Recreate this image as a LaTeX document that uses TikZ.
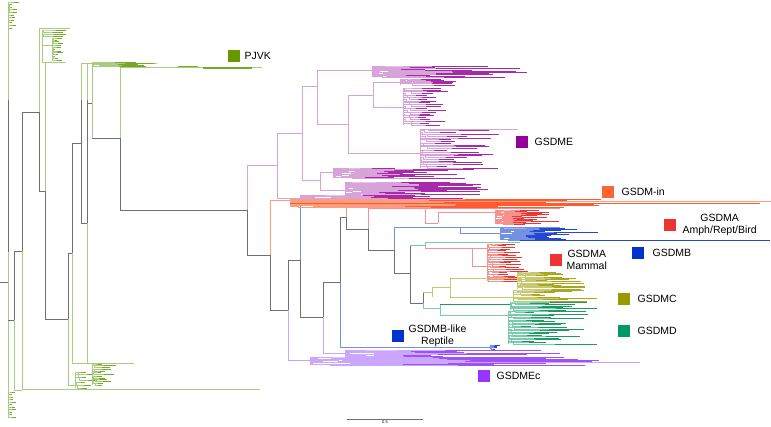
\documentclass[tikz,border=0pt]{standalone}
\usepackage{fontspec}
\setmainfont{Liberation Sans}
\usetikzlibrary{positioning,calc}

\definecolor{trunk}{HTML}{707070}
\definecolor{pjvkL}{HTML}{A8CC80}
\definecolor{pjvkD}{HTML}{78A828}
\definecolor{pjvkC}{HTML}{669900}
\definecolor{gsdmeL}{HTML}{D8A2DA}
\definecolor{gsdmeD}{HTML}{A62AAA}
\definecolor{gsdmeC}{HTML}{990099}
\definecolor{ginL}{HTML}{FF9C7C}
\definecolor{ginD}{HTML}{FF5A30}
\definecolor{ginC}{HTML}{FF6633}
\definecolor{gsdmaL}{HTML}{F89090}
\definecolor{gsdmaD}{HTML}{F03535}
\definecolor{gsdmaC}{HTML}{EE3333}
\definecolor{gsdmbL}{HTML}{7490E2}
\definecolor{gsdmbD}{HTML}{2448D0}
\definecolor{gsdmbC}{HTML}{0033CC}
\definecolor{gsdmcL}{HTML}{C8C870}
\definecolor{gsdmcD}{HTML}{A8A820}
\definecolor{gsdmcC}{HTML}{999900}
\definecolor{gsdmdL}{HTML}{78CCAC}
\definecolor{gsdmdD}{HTML}{1C9A62}
\definecolor{gsdmdC}{HTML}{009966}
\definecolor{gsdmecL}{HTML}{CBA6FF}
\definecolor{gsdmecD}{HTML}{A050F5}
\definecolor{gsdmecC}{HTML}{9933FF}

\tikzset{
  br/.style={line width=0.75pt},
  twig/.style={line width=0.6pt},
  key/.style={minimum size=12.5pt, inner sep=0pt},
  lab/.style={font=\fontsize{10.5}{12}\selectfont, inner sep=0pt, align=center},
}

% x, y0, y1, n, xmin, xmax, light, dark
\newcommand{\bush}[8]{%
  \draw[br,#7] (#1,#2) -- (#1,#3);
  \foreach \k in {0,...,#4}{
    \pgfmathsetmacro{\yy}{#2+\k*(#3-#2)/#4}
    \pgfmathsetmacro{\yp}{max(#2,\yy-(#3-#2)/#4)}
    \pgfmathsetmacro{\xx}{#5+rnd*(#6-#5)}
    \pgfmathsetmacro{\xs}{#1+rnd*0.4*(#5-#1)}
    \pgfmathsetmacro{\xm}{\xs+0.5*(\xx-\xs)}
    \draw[twig,#7] (#1,\yp) -- (\xs,\yp) -- (\xs,\yy) -- (\xm,\yy);
    \draw[twig,#8] (\xm,\yy) -- (\xx,\yy);
  }}

\begin{document}
\begin{tikzpicture}[x=1pt,y=-1pt]
  \pgfmathsetseed{7}
  \useasboundingbox (0,0) rectangle (771,427);

  % left part, PJVK
  \draw[br,trunk] (0,282) -- (8,282);
  \draw[br,pjvkL] (8,2) -- (8,100);
  \draw[br,trunk] (8,100) -- (8,252);
  \draw[br,pjvkL] (8,252) -- (8,417);
  \bush{8}{2}{28}{10}{11}{20}{pjvkL}{pjvkD}
  \bush{8}{392}{417}{10}{10}{16}{pjvkL}{pjvkD}
  \draw[br,trunk] (8,320) -- (14,320);
  \draw[br,trunk] (14,251) -- (14,320);
  \draw[br,pjvkL] (14,320) -- (14,390) -- (22,390);
  \draw[br,trunk] (14,251) -- (22,251);
  \draw[br,trunk] (22,112) -- (22,251);
  \draw[br,pjvkL] (22,251) -- (22,389) -- (260,389);
  \draw[br,trunk] (22,112) -- (39,112);
  \draw[br,pjvkL] (39,28) -- (39,112);
  \draw[br,trunk] (39,112) -- (39,191) -- (45,191);
  \draw[br,pjvkL] (39,28) -- (70,28);
  \bush{42}{30}{36}{3}{58}{70}{pjvkL}{pjvkD}
  \draw[br,pjvkL] (42,36) -- (42,62);
  \draw[br,pjvkL] (42,45) -- (52,45);
  \bush{52}{38}{60}{12}{55}{64}{pjvkL}{pjvkD}
  \draw[br,pjvkL] (42,62) -- (66,62);
  \draw[br,pjvkL] (45,62) -- (45,191);
  \draw[br,trunk] (45,191) -- (45,319) -- (68,319);
  \draw[br,trunk] (68,253) -- (68,319);
  \draw[br,pjvkL] (68,319) -- (68,385) -- (75,385);
  \draw[br,trunk] (68,253) -- (72,253);
  \draw[br,trunk] (72,143) -- (72,253);
  \draw[br,pjvkL] (72,253) -- (72,363) -- (134,363);
  \bush{75}{372}{388}{6}{85}{100}{pjvkL}{pjvkD}
  \bush{92}{364}{385}{12}{100}{122}{pjvkL}{pjvkD}
  \draw[br,trunk] (72,143) -- (81,143);
  \draw[br,pjvkL] (81,63) -- (81,100);
  \draw[br,trunk] (81,100) -- (81,223) -- (87,223);
  \draw[br,pjvkL] (87,63) -- (87,100);
  \draw[br,trunk] (87,100) -- (87,223);
  \draw[br,pjvkL] (87,223) -- (87,363);
  \draw[br,trunk] (87,103) -- (92,103);
  \draw[br,pjvkL] (92,65) -- (92,138);
  \draw[br,trunk] (92,138) -- (120,138);
  \draw[br,pjvkL] (120,67) -- (120,138);
  \draw[br,trunk] (120,138) -- (120,210) -- (247,210);
  \draw[br,pjvkL] (81,63) -- (157,63);
  \bush{92}{62}{66}{5}{130}{157}{pjvkL}{pjvkD}
  \draw[br,pjvkL] (120,67) -- (262,67);
  \draw[line width=1pt,pjvkD] (178,67) -- (198,67);
  \draw[line width=1.1pt,pjvkD] (203,68) -- (252,68);

  % backbone of the gasdermins
  \draw[br,gsdmeL] (247,165) -- (247,210);
  \draw[br,trunk] (247,210) -- (247,255) -- (270,255);
  \draw[br,ginL] (270,200) -- (270,255);
  \draw[br,trunk] (270,255) -- (270,310) -- (288,310);
  \draw[br,trunk] (288,260) -- (288,310);
  \draw[br,gsdmecL] (288,310) -- (288,360);
  \draw[br,trunk] (288,260) -- (300,260);
  \draw[br,gsdmbL] (300,204) -- (300,260);
  \draw[br,trunk] (300,260) -- (300,317) -- (323,317);
  \draw[br,gsdmbL] (300,204) -- (346,204);
  \draw[br,trunk] (323,282) -- (323,317);
  \draw[br,gsdmecL] (323,317) -- (323,353);
  \draw[br,trunk] (323,282) -- (340,282);
  \draw[br,trunk] (340,217) -- (340,282);
  \draw[br,gsdmbL] (340,282) -- (340,347);
  \draw[br,trunk] (340,217) -- (346,217);
  \draw[br,gsdmaL] (346,204) -- (346,217);
  \draw[br,trunk] (346,217) -- (346,229) -- (368,229);
  \draw[br,gsdmaL] (368,208) -- (368,229);
  \draw[br,trunk] (368,229) -- (368,250) -- (394,250);
  \draw[br,gsdmbL] (394,227) -- (394,250);
  \draw[br,trunk] (394,250) -- (394,273) -- (410,273);
  \draw[br,trunk] (410,245) -- (410,303) -- (423,303);

  % GSDME
  \draw[br,gsdmeL] (247,165) -- (277,165);
  \draw[br,gsdmeL] (277,133) -- (277,198);
  \draw[br,gsdmeL] (277,133) -- (302,133);
  \draw[br,gsdmeL] (302,86) -- (302,180);
  \draw[br,gsdmeL] (302,86) -- (317,86);
  \draw[br,gsdmeL] (317,70) -- (317,124);
  \draw[br,gsdmeL] (317,70) -- (372,70);
  \bush{372}{66}{77}{12}{420}{540}{gsdmeL}{gsdmeD}
  \draw[br,gsdmeL] (317,124) -- (348,124);
  \draw[br,gsdmeL] (348,95) -- (348,153);
  \draw[br,gsdmeL] (348,95) -- (373,95);
  \draw[br,gsdmeL] (373,82) -- (373,107);
  \draw[br,gsdmeL] (373,82) -- (400,82);
  \bush{400}{79}{85}{5}{440}{480}{gsdmeL}{gsdmeD}
  \draw[br,gsdmeL] (373,107) -- (403,107);
  \bush{403}{88}{125}{20}{425}{450}{gsdmeL}{gsdmeD}
  \draw[br,gsdmeL] (348,153) -- (420,153);
  \bush{420}{129}{168}{22}{440}{500}{gsdmeL}{gsdmeD}
  \draw[br,gsdmeL] (420,129) -- (518,129);
  \draw[br,gsdmeL] (302,180) -- (320,180);
  \draw[br,gsdmeL] (320,172) -- (320,190);
  \draw[br,gsdmeL] (320,172) -- (333,172);
  \bush{333}{168}{178}{12}{390}{480}{gsdmeL}{gsdmeD}
  \draw[br,gsdmeL] (320,190) -- (345,190);
  \bush{345}{182}{197}{16}{400}{490}{gsdmeL}{gsdmeD}
  \draw[br,gsdmeL] (277,198) -- (300,198);
  \bush{300}{195}{200}{5}{380}{470}{gsdmeL}{gsdmeD}

  % GSDM-in
  \draw[br,ginL] (270,200) -- (290,200);
  \bush{290}{199}{207}{12}{480}{640}{ginL}{ginD}
  \draw[br,ginD] (290,203) -- (760,203);
  \draw[br,ginL] (290,201) -- (772,201);

  % GSDMA amphibian/reptile/bird
  \draw[br,gsdmaL] (346,204) -- (420,204);
  \draw[br,gsdmaL] (368,208) -- (425,208);
  \draw[br,gsdmaL] (425,208) -- (425,223) -- (438,223);
  \draw[br,gsdmaL] (438,212) -- (438,223);
  \draw[br,gsdmaL] (438,212) -- (495,212);
  \draw[br,gsdmaL] (425,208) -- (560,208);
  \bush{495}{210}{224}{14}{520}{562}{gsdmaL}{gsdmaD}

  % GSDMB
  \draw[br,gsdmbL] (394,227) -- (460,227);
  \draw[br,gsdmbL] (460,227) -- (460,233) -- (500,233);
  \draw[br,gsdmbL] (460,227) -- (560,227);
  \bush{500}{228}{240}{12}{540}{600}{gsdmbL}{gsdmbD}
  \draw[br,gsdmbD] (520,240) -- (770,240);

  % GSDMA mammal
  \draw[br,gsdmdL] (410,245) -- (425,245);
  \draw[br,gsdmdL] (425,242) -- (425,248);
  \draw[br,gsdmdL] (425,242) -- (520,242);
  \draw[br,gsdmaL] (425,248) -- (472,248);
  \draw[br,gsdmaL] (472,248) -- (472,266) -- (487,266);
  \draw[br,gsdmaL] (472,248) -- (487,248);
  \bush{487}{244}{281}{22}{503}{530}{gsdmaL}{gsdmaD}

  % GSDMC
  \draw[br,trunk] (423,292) -- (423,303);
  \draw[br,gsdmdL] (423,303) -- (423,308);
  \draw[br,gsdmcL] (423,292) -- (432,292);
  \draw[br,gsdmcL] (432,287) -- (432,297);
  \draw[br,gsdmcL] (432,287) -- (450,287);
  \draw[br,gsdmcL] (450,278) -- (450,297);
  \draw[br,gsdmcL] (450,278) -- (517,278);
  \draw[br,gsdmcL] (450,297) -- (513,297);
  \bush{517}{272}{289}{14}{540}{590}{gsdmcL}{gsdmcD}
  \bush{513}{290}{301}{8}{540}{600}{gsdmcL}{gsdmcD}

  % GSDMD
  \draw[br,gsdmdL] (423,308) -- (440,308);
  \draw[br,gsdmdL] (440,304) -- (440,315);
  \draw[br,gsdmdD] (440,304) -- (510,304);
  \bush{510}{302}{310}{6}{540}{600}{gsdmdL}{gsdmdD}
  \draw[br,gsdmdL] (440,315) -- (508,315);
  \bush{508}{311}{344}{22}{530}{600}{gsdmdL}{gsdmdD}

  % GSDMB-like reptile
  \draw[br,gsdmbL] (340,347) -- (493,347);
  \bush{490}{345}{349}{3}{494}{500}{gsdmbL}{gsdmbD}

  % GSDMEc
  \draw[br,gsdmecL] (323,353) -- (345,353);
  \bush{345}{350}{358}{8}{430}{565}{gsdmecL}{gsdmecD}
  \draw[br,gsdmecL] (288,360) -- (310,360);
  \bush{310}{357}{365}{8}{470}{600}{gsdmecL}{gsdmecD}
  \draw[br,gsdmecL] (310,362) -- (640,362);

  % keys
  \node[key,fill=pjvkC] (kpjvk) at (234,56) {};
  \node[lab,right=4pt of kpjvk] (tpjvk) {PJVK};
  \node[key,fill=gsdmeC] (kgsdme) at (522,142) {};
  \node[lab,right=6pt of kgsdme] (tgsdme) {GSDME};
  \node[key,fill=ginC] (kgin) at (608,192) {};
  \node[lab,right=7pt of kgin] (tgin) {GSDM-in};
  \node[key,fill=gsdmaC] (kamph) at (670,225) {};
  \node[lab,right=6pt of kamph] (tamph) {GSDMA\\Amph/Rept/Bird};
  \node[key,fill=gsdmbC] (kgsdmb) at (638,253) {};
  \node[lab,right=8pt of kgsdmb] (tgsdmb) {GSDMB};
  \node[key,fill=gsdmaC] (kmam) at (556,260) {};
  \node[lab,right=4pt of kmam] (tmam) {GSDMA\\Mammal};
  \node[key,fill=gsdmcC] (kgsdmc) at (624,299) {};
  \node[lab,right=7pt of kgsdmc] (tgsdmc) {GSDMC};
  \node[key,fill=gsdmdC] (kgsdmd) at (624,331) {};
  \node[lab,right=7pt of kgsdmd] (tgsdmd) {GSDMD};
  \node[key,fill=gsdmbC] (krep) at (398,336) {};
  \node[lab,right=4pt of krep] (trep) {GSDMB-like\\Reptile};
  \node[key,fill=gsdmecC] (kgsdmec) at (484,376) {};
  \node[lab,right=6pt of kgsdmec] (tgsdmec) {GSDMEc};

  % scale bar
  \coordinate (s0) at (347,419);
  \coordinate (s1) at (423,419);
  \draw[line width=0.6pt,trunk] (s0) -- (s1);
  \node[font=\fontsize{4}{4}\selectfont,inner sep=0pt,below=2pt] (sl) at ($(s0)!0.5!(s1)$) {0.5};
\end{tikzpicture}
\end{document}
